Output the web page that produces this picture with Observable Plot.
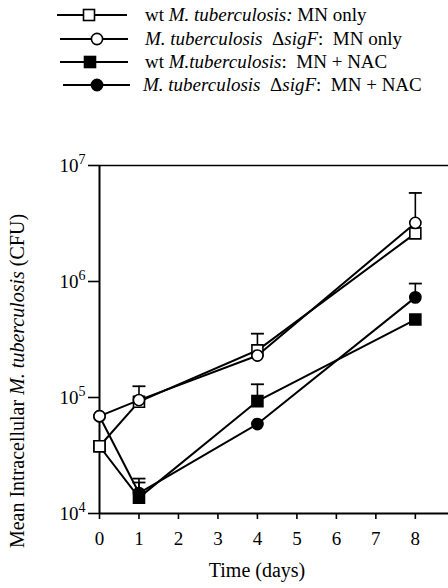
<!DOCTYPE html>
<html>
<head>
<meta charset="utf-8">
<script src="https://cdn.jsdelivr.net/npm/d3@7"></script>
<script src="https://cdn.jsdelivr.net/npm/@observablehq/plot@0.6"></script>
<style>
  html, body { margin: 0; padding: 0; background: #fff; }
  #wrap { width: 448px; height: 588px; position: relative; overflow: hidden; font-family: 'Liberation Serif', 'Times New Roman', 'DejaVu Serif', serif; }
  #legend { position: absolute; left: 0; top: 0; }
  #chart { position: absolute; left: 0; top: 100px; }
  svg text { font-family: 'Liberation Serif', 'Times New Roman', 'DejaVu Serif', serif !important; }
</style>
</head>
<body>
<div id="wrap">
  <div id="legend"></div>
  <div id="chart"></div>
</div>
<script>
// ---- data ----
const days = [0, 1, 4, 8];
const xTicks = [0, 1, 2, 3, 4, 5, 6, 7, 8];
const yTicks = [1e4, 1e5, 1e6, 1e7];
const seriesKeys = ["wtMN", "sigFMN", "wtNAC", "sigFNAC"];
const wtMN    = [3.8e4, 9.2e4, 2.55e5, 2.6e6];
const sigFMN  = [6.9e4, 9.5e4, 2.3e5, 3.2e6];
const wtNAC   = [3.8e4, 1.37e4, 9.3e4, 4.7e5];
const sigFNAC = [6.9e4, 1.5e4, 5.9e4, 7.3e5];
const wtMNErr    = [null, 1.25e5, 3.55e5, null];
const sigFMNErr  = [null, null, null, 5.8e6];
const wtNACErr   = [null, 1.85e4, 1.3e5, null];
const sigFNACErr = [null, 2.0e4, null, 9.6e5];
// legend label parts: [text, italic?]
const legendLabels = [
  [["wt ", false], ["M. tuberculosis:", true], [" MN only", false]],
  [["M. tuberculosis", true], ["  \u0394", false], ["sigF", true], [":  MN only", false]],
  [["wt ", false], ["M.tuberculosis", true], [":  MN + NAC", false]],
  [["M. tuberculosis", true], ["  \u0394", false], ["sigF", true], [":  MN + NAC", false]]
];
const symbols = ["square", "circle", "square", "circle"];
const fills = ["white", "white", "black", "black"];

const FONT = "'Liberation Serif', 'Times New Roman', 'DejaVu Serif', serif";

const values = {wtMN, sigFMN, wtNAC, sigFNAC};
const errs = {wtMN: wtMNErr, sigFMN: sigFMNErr, wtNAC: wtNACErr, sigFNAC: sigFNACErr};
const rows = seriesKeys.flatMap((k, si) => days.map((d, i) => ({
  series: k, si, day: d, cfu: values[k][i], err: errs[k][i]
})));
const errRows = rows.filter(r => r.err != null);

const capSymbol = {
  draw(context, size) {
    const r = Math.sqrt(size / Math.PI);
    context.moveTo(-r, 0);
    context.lineTo(r, 0);
  }
};

const dotMarks = [2, 3, 0, 1].map(si => Plot.dot(rows.filter(r => r.si === si), {
  x: "day", y: "cfu", symbol: symbols[si], r: symbols[si] === "square" ? 6.2 : 5.6,
  fill: fills[si], stroke: "black", strokeWidth: 1.6
}));

const chart = Plot.plot({
  width: 448,
  height: 488,
  marginLeft: 99,
  marginRight: 0,
  marginTop: 65,
  marginBottom: 75,
  style: { fontFamily: FONT, fontSize: "19px", color: "black", background: "white", overflow: "visible" },
  x: { domain: [0, 8.84] },
  y: { type: "log", domain: [1e4, 1e7] },
  marks: [
    Plot.axisX({ ticks: xTicks, tickSize: 6, tickPadding: 12, label: null, strokeWidth: 1.6, tickFormat: d => String(d) }),
    Plot.axisY({ ticks: yTicks, tickSize: 11, tickPadding: 3, label: null, strokeWidth: 1.6, tickFormat: d => String(Math.round(Math.log10(d))) }),
    Plot.ruleX([0], { stroke: "black", strokeWidth: 2 }),
    Plot.ruleY([1e4], { stroke: "black", strokeWidth: 2 }),
    Plot.ruleY([1e7], { stroke: "black", strokeWidth: 1.6 }),
    Plot.line(rows, { x: "day", y: "cfu", z: "series", stroke: "black", strokeWidth: 2 }),
    Plot.ruleX(errRows, { x: "day", y1: "cfu", y2: "err", stroke: "black", strokeWidth: 1.6 }),
    Plot.dot(errRows, { x: "day", y: "err", symbol: capSymbol, r: 6.5, fill: "none", stroke: "black", strokeWidth: 1.8 }),
    ...dotMarks
  ]
});
document.getElementById("chart").appendChild(chart);

// exponent-style y tick labels: 10^n
const svg = d3.select(chart);
svg.selectAll('g[aria-label="y-axis tick label"] text').each(function() {
  const t = d3.select(this);
  const e = t.text();
  t.text("10");
  t.append("tspan").attr("dy", "-0.55em").attr("font-size", "14px").text(e);
});

// y axis label (mixed italics)
const yl = svg.append("text")
  .attr("transform", "translate(24,281) rotate(-90)")
  .attr("text-anchor", "middle")
  .attr("font-size", "20px")
  .attr("fill", "black")
  .style("font-family", FONT);
[["Mean Intracellular ", false], ["M. tuberculosis", true], [" (CFU)", false]].forEach(([s, it]) => {
  yl.append("tspan").attr("font-style", it ? "italic" : "normal").text(s);
});

// x axis label
svg.append("text")
  .attr("x", 257).attr("y", 477)
  .attr("text-anchor", "middle")
  .attr("font-size", "20px")
  .attr("fill", "black")
  .style("font-family", FONT)
  .text("Time (days)");

// legend
const rowY = [15, 39, 62, 85];
const lineX = [[57, 127, 89], [60, 128, 97], [60, 128, 90], [63, 130, 97]];
const textX = [145, 145, 145, 143];
const lg = d3.select("#legend").append("svg").attr("width", 448).attr("height", 100);
legendLabels.forEach((parts, i) => {
  const y = rowY[i];
  const [x1, x2, xm] = lineX[i];
  lg.append("line").attr("x1", x1).attr("x2", x2).attr("y1", y).attr("y2", y)
    .attr("stroke", "black").attr("stroke-width", 2);
  if (symbols[i] === "square") {
    lg.append("rect").attr("x", xm - 5.5).attr("y", y - 5.5).attr("width", 11).attr("height", 11)
      .attr("fill", fills[i]).attr("stroke", "black").attr("stroke-width", 1.6);
  } else {
    lg.append("circle").attr("cx", xm).attr("cy", y).attr("r", 5.6)
      .attr("fill", fills[i]).attr("stroke", "black").attr("stroke-width", 1.6);
  }
  const t = lg.append("text").attr("x", textX[i]).attr("y", y + 6)
    .attr("font-size", "19px").attr("fill", "black")
    .style("font-family", FONT)
    .style("white-space", "pre");
  parts.forEach(([s, it]) => t.append("tspan").attr("font-style", it ? "italic" : "normal").text(s));
});
</script>
</body>
</html>
